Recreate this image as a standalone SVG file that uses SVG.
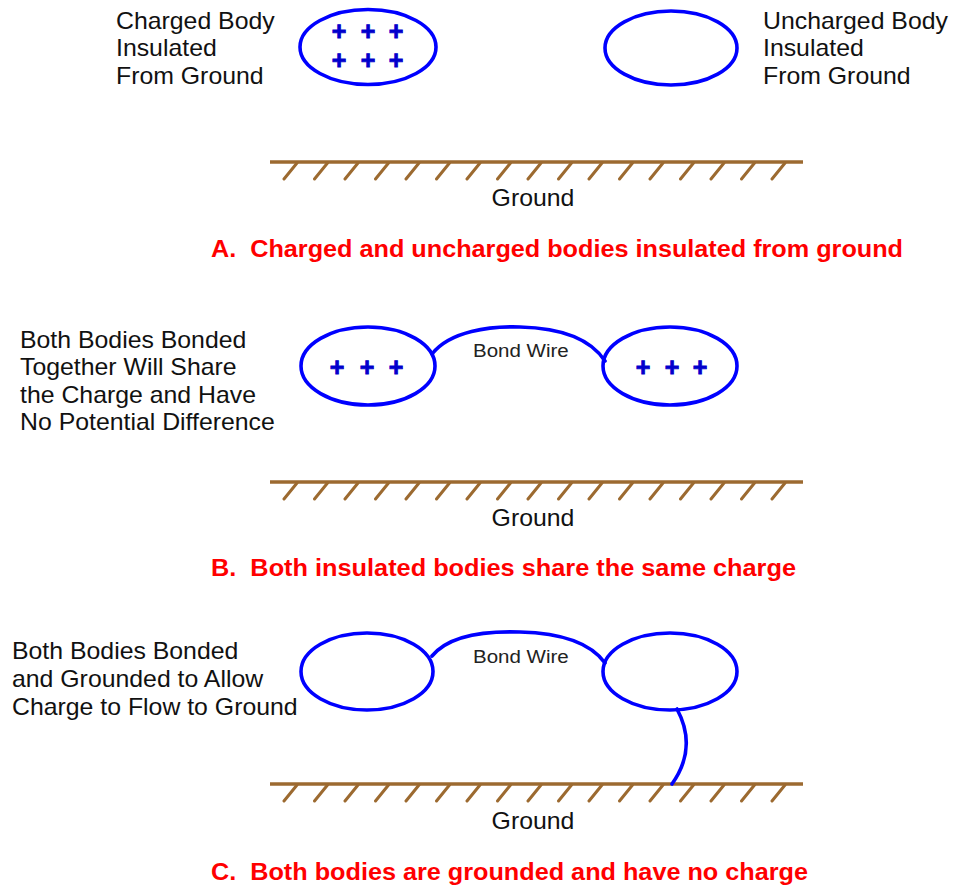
<svg xmlns="http://www.w3.org/2000/svg" xmlns:xlink="http://www.w3.org/1999/xlink" width="956" height="886" viewBox="0 0 956 886">
<style>
.body{fill:none;stroke:#0000ff;stroke-width:3.6}
.wire{fill:none;stroke:#0000ff;stroke-width:3.6;stroke-linecap:round}
.lbl{font-family:"Liberation Sans",Arial,sans-serif;font-size:23px;fill:#111}
.bw{font-family:"Liberation Sans",Arial,sans-serif;font-size:19px;fill:#222}
.ttl{font-family:"Liberation Sans",Arial,sans-serif;font-size:23px;font-weight:bold;fill:#ff0000}
.plus{font-family:"Liberation Sans",Arial,sans-serif;font-size:25px;font-weight:bold;fill:#0000cc;stroke:#0000cc;stroke-width:0.9;text-anchor:middle}
.gl{stroke:#9c6a30;stroke-width:3.5;fill:none}
.gh{stroke:#9c6a30;stroke-width:3;fill:none;stroke-linecap:round}
</style>
<defs>
<g id="groundSym">
<line class="gl" x1="270" y1="0" x2="803" y2="0"/>
<path class="gh" d="M297,1 l-13,16 M327.5,1 l-13,16 M358,1 l-13,16 M388.5,1 l-13,16 M419,1 l-13,16 M449.5,1 l-13,16 M480,1 l-13,16 M510.5,1 l-13,16 M541,1 l-13,16 M571.5,1 l-13,16 M602,1 l-13,16 M632.5,1 l-13,16 M663,1 l-13,16 M693.5,1 l-13,16 M724,1 l-13,16 M754.5,1 l-13,16 M785,1 l-13,16"/>
</g>
</defs>

<!-- Section A -->
<g id="labelA1"><text class="lbl" transform="translate(116 29) scale(1.08 1)"><tspan x="0" y="0">Charged Body</tspan><tspan x="0" y="27.5">Insulated</tspan><tspan x="0" y="55">From Ground</tspan></text></g>
<g id="bodyA1">
<ellipse class="body" cx="368" cy="47" rx="68" ry="37.5"/>
<text class="plus" x="339" y="40">+</text><text class="plus" x="368" y="40">+</text><text class="plus" x="396" y="40">+</text>
<text class="plus" x="339" y="68.5">+</text><text class="plus" x="368" y="68.5">+</text><text class="plus" x="396" y="68.5">+</text>
</g>
<g id="bodyA2"><ellipse class="body" cx="671" cy="48" rx="66" ry="37"/></g>
<g id="labelA2"><text class="lbl" transform="translate(763 29) scale(1.08 1)"><tspan x="0" y="0">Uncharged Body</tspan><tspan x="0" y="27.5">Insulated</tspan><tspan x="0" y="55">From Ground</tspan></text></g>
<g id="groundA"><use xlink:href="#groundSym" transform="translate(0 162)"/>
<text class="lbl" text-anchor="middle" transform="translate(533 206) scale(1.08 1)">Ground</text></g>
<g id="titleA"><text class="ttl" x="211" y="257" textLength="692" lengthAdjust="spacingAndGlyphs">A.&#160; Charged and uncharged bodies insulated from ground</text></g>

<!-- Section B -->
<g id="labelB"><text class="lbl" transform="translate(20 348) scale(1.08 1)"><tspan x="0" y="0">Both Bodies Bonded</tspan><tspan x="0" y="27.5">Together Will Share</tspan><tspan x="0" y="55">the Charge and Have</tspan><tspan x="0" y="82.5">No Potential Difference</tspan></text></g>
<g id="bodyB1">
<ellipse class="body" cx="368" cy="366" rx="67" ry="39"/>
<text class="plus" x="337" y="375.5">+</text><text class="plus" x="367" y="375.5">+</text><text class="plus" x="396" y="375.5">+</text>
</g>
<g id="bodyB2">
<ellipse class="body" cx="670" cy="366" rx="67" ry="39"/>
<text class="plus" x="643" y="375.5">+</text><text class="plus" x="672" y="375.5">+</text><text class="plus" x="700" y="375.5">+</text>
</g>
<g id="groundB"><use xlink:href="#groundSym" transform="translate(0 482)"/>
<text class="lbl" text-anchor="middle" transform="translate(533 526) scale(1.08 1)">Ground</text></g>
<g id="titleB"><text class="ttl" x="211" y="576" textLength="585" lengthAdjust="spacingAndGlyphs">B.&#160; Both insulated bodies share the same charge</text></g>

<!-- Section C -->
<g id="labelC"><text class="lbl" transform="translate(12 659) scale(1.08 1)"><tspan x="0" y="0">Both Bodies Bonded</tspan><tspan x="0" y="28">and Grounded to Allow</tspan><tspan x="0" y="56.5">Charge to Flow to Ground</tspan></text></g>
<g id="bodyC1"><ellipse class="body" cx="367" cy="671.5" rx="66" ry="38.5"/></g>
<g id="bodyC2"><ellipse class="body" cx="670" cy="671.5" rx="67" ry="38.5"/></g>
<g id="groundC"><use xlink:href="#groundSym" transform="translate(0 784)"/>
<text class="lbl" text-anchor="middle" transform="translate(533 829) scale(1.08 1)">Ground</text></g>
<g id="titleC"><text class="ttl" x="211" y="880" textLength="597" lengthAdjust="spacingAndGlyphs">C.&#160; Both bodies are grounded and have no charge</text></g>

<!-- Connectors -->
<g id="connectors">
<path id="bondB" class="wire" d="M432,354 C450,331 490,326 520,327 C560,328 590,338 605,361"/>
<text class="bw" transform="translate(473 357) scale(1.08 1)">Bond Wire</text>
<path id="bondC" class="wire" d="M432,656 C450,634 490,631 520,632 C560,633 590,642 605,663"/>
<text class="bw" transform="translate(473 663) scale(1.08 1)">Bond Wire</text>
<path id="groundWire" class="wire" d="M677,709 C691,735 689,760 672,784"/>
</g>
</svg>
